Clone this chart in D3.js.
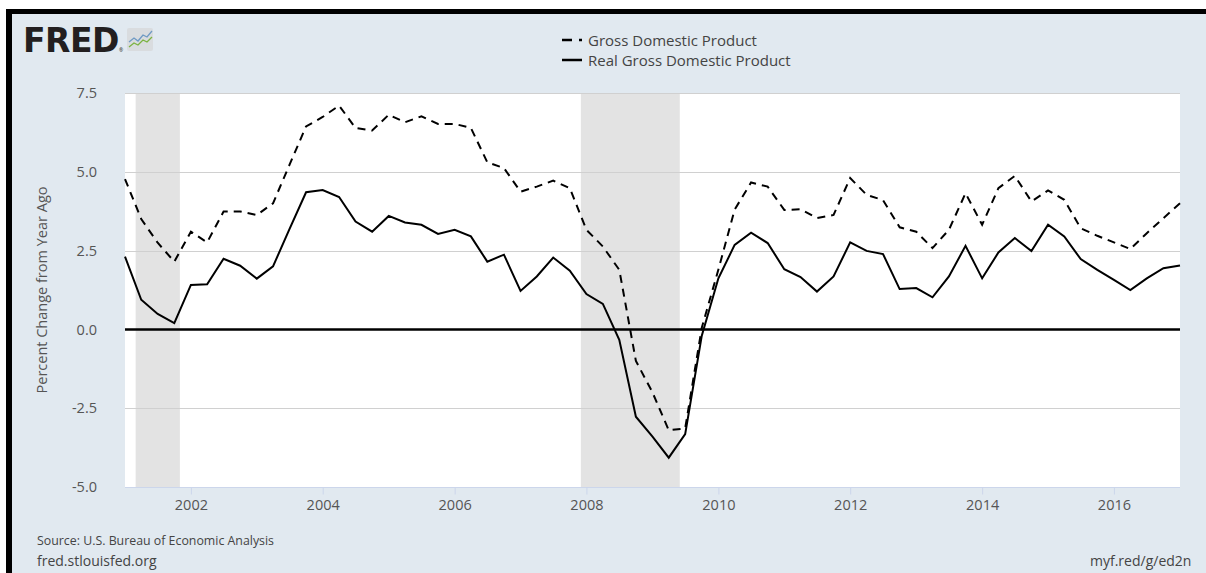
<!DOCTYPE html>
<html>
<head>
<meta charset="utf-8">
<script src="https://cdn.jsdelivr.net/npm/d3@7"></script>
<style>
  html, body { margin: 0; padding: 0; background: #fff; overflow: hidden; }
  svg { display: block; font-family: "Open Sans", sans-serif; }
</style>
</head>
<body>
<div id="chart"></div>
<script>
// quarterly observations, 2001 Q1 .. 2017 Q1
var firstQuarter = "2001-01-01";
var seriesNames = ["Gross Domestic Product", "Real Gross Domestic Product"];

var gdp = [
  4.77, 3.5, 2.75, 2.15, 3.1, 2.76, 3.74, 3.74, 3.63, 4.0, 5.22, 6.44, 6.74, 7.1, 6.39, 6.31,
  6.81, 6.57, 6.76, 6.52, 6.52, 6.39, 5.3, 5.12, 4.37, 4.53, 4.72, 4.48, 3.16, 2.63, 1.89, -1.0,
  -2.0, -3.2, -3.14, 0.05, 1.9, 3.8, 4.66, 4.53, 3.79, 3.81, 3.53, 3.63, 4.8, 4.27, 4.1, 3.24,
  3.1, 2.58, 3.16, 4.32, 3.32, 4.48, 4.87, 4.06, 4.41, 4.11, 3.21, 2.97, 2.76, 2.55, 3.05, 3.53,
  4.0
];
var realGdp = [
  2.31, 0.94, 0.49, 0.2, 1.41, 1.43, 2.24, 2.02, 1.61, 2.0, 3.18, 4.35, 4.42, 4.2, 3.42, 3.1,
  3.6, 3.39, 3.32, 3.03, 3.16, 2.95, 2.15, 2.37, 1.22, 1.68, 2.28, 1.86, 1.12, 0.81, -0.33, -2.77,
  -3.4, -4.07, -3.32, -0.2, 1.62, 2.68, 3.07, 2.74, 1.91, 1.66, 1.2, 1.68, 2.76, 2.49, 2.39, 1.28,
  1.31, 1.02, 1.68, 2.65, 1.62, 2.44, 2.9, 2.49, 3.32, 2.95, 2.23, 1.89, 1.57, 1.25, 1.62, 1.94,
  2.03
];

var recessions = [["2001-03-01", "2001-11-01"], ["2007-12-01", "2009-06-01"]];
var yTicks = [-5, -2.5, 0, 2.5, 5, 7.5];
var xTickYears = [2002, 2004, 2006, 2008, 2010, 2012, 2014, 2016];

var W = 1206, H = 573;
var plot = {left: 125, right: 1180, top: 93, bottom: 487};

var parse = d3.timeParse("%Y-%m-%d");
var start = parse(firstQuarter);
var dates = gdp.map(function(d, i) { return d3.timeMonth.offset(start, 3 * i); });

var x = d3.scaleTime()
    .domain([start, dates[dates.length - 1]])
    .range([plot.left, plot.right]);
var y = d3.scaleLinear()
    .domain([-5, 7.5])
    .range([plot.bottom, plot.top]);

var svg = d3.select("#chart").append("svg")
    .attr("width", W)
    .attr("height", H);

// frame
svg.append("rect").attr("x", 6).attr("y", 9).attr("width", W + 20).attr("height", H + 20).attr("fill", "#000");
svg.append("rect").attr("x", 12).attr("y", 14).attr("width", W + 20).attr("height", H + 20).attr("fill", "#e1e9f0");

// FRED logo
svg.append("text")
    .attr("x", 23).attr("y", 52)
    .attr("font-family", "DejaVu Sans, sans-serif")
    .attr("font-weight", "bold")
    .attr("font-size", 33)
    .attr("letter-spacing", -0.5)
    .attr("fill", "#231f20")
    .text("FRED");
svg.append("text")
    .attr("x", 119).attr("y", 52)
    .attr("font-size", 5)
    .attr("fill", "#231f20")
    .text("®");
var logo = svg.append("g").attr("transform", "translate(127,28)");
logo.append("rect").attr("width", 26).attr("height", 23).attr("rx", 2).attr("fill", "#d9dcdf");
logo.append("polyline").attr("points", "2,14 7,10 11,13 16,7 20,9 25,3")
    .attr("fill", "none").attr("stroke", "#6f9ac4").attr("stroke-width", 1.3);
logo.append("polyline").attr("points", "2,19 7,15 11,17 16,12 20,14 25,9")
    .attr("fill", "none").attr("stroke", "#7cb342").attr("stroke-width", 1.3);

// legend
var legend = svg.append("g").attr("transform", "translate(562,0)");
[{name: seriesNames[0], dash: "10,7", y: 40}, {name: seriesNames[1], dash: null, y: 60}].forEach(function(d) {
  legend.append("line")
      .attr("x1", 0).attr("x2", 20)
      .attr("y1", d.y).attr("y2", d.y)
      .attr("stroke", "#000").attr("stroke-width", 2.5)
      .attr("stroke-dasharray", d.dash);
  legend.append("text")
      .attr("x", 26).attr("y", d.y + 5.5)
      .attr("font-size", 15)
      .attr("fill", "#444")
      .text(d.name);
});

// plot background + recessions
svg.append("rect")
    .attr("x", plot.left).attr("y", plot.top)
    .attr("width", plot.right - plot.left).attr("height", plot.bottom - plot.top)
    .attr("fill", "#fff");
svg.append("g").selectAll("rect")
    .data(recessions)
    .enter().append("rect")
    .attr("x", function(d) { return x(parse(d[0])); })
    .attr("width", function(d) { return x(parse(d[1])) - x(parse(d[0])); })
    .attr("y", plot.top)
    .attr("height", plot.bottom - plot.top)
    .attr("fill", "#e3e3e3");

// grid
svg.append("g").selectAll("line")
    .data(yTicks.filter(function(d) { return d !== -5 && d !== 0; }))
    .enter().append("line")
    .attr("x1", plot.left).attr("x2", plot.right)
    .attr("y1", function(d) { return Math.round(y(d)) + 0.5; })
    .attr("y2", function(d) { return Math.round(y(d)) + 0.5; })
    .attr("stroke", "#d0d0d0");

// y axis labels
var fmt = d3.format(".1f");
var yAxis = d3.axisLeft(y).tickValues(yTicks).tickSize(0).tickPadding(0)
    .tickFormat(function(d) { return fmt(d).replace("\u2212", "-"); });
var gy = svg.append("g").attr("transform", "translate(97,0)").call(yAxis);
gy.select(".domain").remove();
gy.selectAll("text")
    .attr("font-family", "Open Sans, sans-serif")
    .attr("font-size", 14.5)
    .attr("fill", "#555");

svg.append("text")
    .attr("transform", "translate(47,290) rotate(-90)")
    .attr("text-anchor", "middle")
    .attr("font-size", 14.5)
    .attr("fill", "#555")
    .text("Percent Change from Year Ago");

// x axis
var xAxis = d3.axisBottom(x)
    .tickValues(xTickYears.map(function(yr) { return new Date(yr, 0, 1); }))
    .tickSize(7).tickPadding(5)
    .tickFormat(d3.timeFormat("%Y"));
var gx = svg.append("g").attr("transform", "translate(0," + (plot.bottom + 0.5) + ")").call(xAxis);
gx.select(".domain").attr("stroke", "#ccd6eb").attr("d", "M" + plot.left + ",0H" + plot.right);
gx.selectAll(".tick line").attr("stroke", "#ccd6eb");
gx.selectAll("text")
    .attr("font-family", "Open Sans, sans-serif")
    .attr("font-size", 14.5)
    .attr("fill", "#555");

// zero line
svg.append("line")
    .attr("x1", plot.left).attr("x2", plot.right)
    .attr("y1", y(0)).attr("y2", y(0))
    .attr("stroke", "#000").attr("stroke-width", 2.5);

// series
var line = d3.line()
    .x(function(d, i) { return x(dates[i]); })
    .y(function(d) { return y(d); });

svg.append("path")
    .datum(gdp)
    .attr("d", line)
    .attr("fill", "none")
    .attr("stroke", "#000")
    .attr("stroke-width", 2)
    .attr("stroke-dasharray", "8,6");

svg.append("path")
    .datum(realGdp)
    .attr("d", line)
    .attr("fill", "none")
    .attr("stroke", "#000")
    .attr("stroke-width", 2);

// footer
svg.append("text")
    .attr("x", 37).attr("y", 545)
    .attr("font-family", "Liberation Sans Narrow, Open Sans, sans-serif")
    .attr("font-size", 12)
    .attr("fill", "#444")
    .attr("textLength", 237)
    .attr("lengthAdjust", "spacingAndGlyphs")
    .text("Source: U.S. Bureau of Economic Analysis");
svg.append("text")
    .attr("x", 37).attr("y", 566)
    .attr("font-size", 14)
    .attr("fill", "#444")
    .text("fred.stlouisfed.org");
svg.append("text")
    .attr("x", 1090).attr("y", 566)
    .attr("font-size", 14)
    .attr("fill", "#444")
    .text("myf.red/g/ed2n");
</script>
</body>
</html>
